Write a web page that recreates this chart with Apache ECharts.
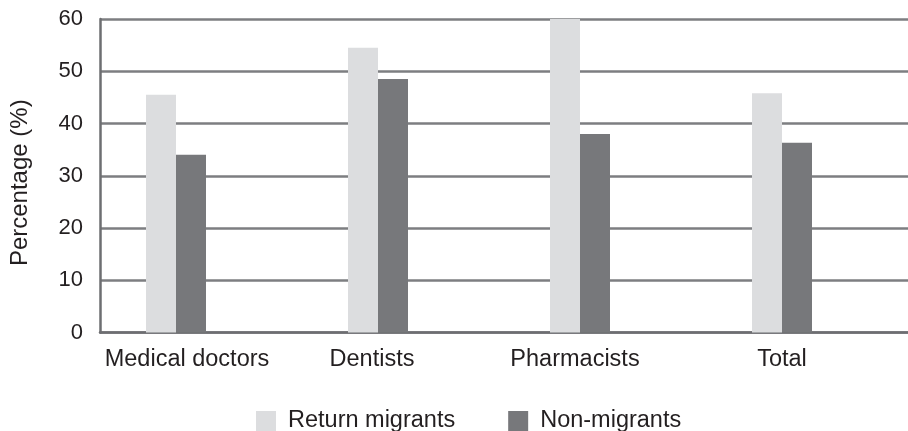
<!DOCTYPE html>
<html>
<head>
<meta charset="utf-8">
<script src="https://cdn.jsdelivr.net/npm/echarts@6/dist/echarts.min.js"></script>
<style>html,body{margin:0;padding:0;background:#fff;}#c{width:908px;height:431px;}</style>
</head>
<body>
<div id="c"></div>
<script>
const categories = ['Medical doctors', 'Dentists', 'Pharmacists', 'Total'];
const returnMigrants = [45.5, 54.5, 60.0, 45.8];
const nonMigrants = [34.0, 48.5, 38.0, 36.3];
const yTicks = [0, 10, 20, 30, 40, 50, 60];
const seriesNames = ['Return migrants', 'Non-migrants'];

const chart = echarts.init(document.getElementById('c'), null, {renderer: 'canvas'});
const font = 'Liberation Sans, Arial, sans-serif';
const labelShift = [28, 62, 60, 50];
const rich = {};
labelShift.forEach((p, i) => {
  rich['c' + i] = {fontFamily: font, fontSize: 23.5, color: '#231f20', padding: [0, p, 0, 0]};
});
chart.setOption({
  animation: false,
  backgroundColor: '#ffffff',
  grid: {left: 100, right: 0, top: 19, bottom: 98.5, containLabel: false},
  legend: {
    data: seriesNames,
    left: 251, top: 404,
    itemWidth: 20, itemHeight: 20, itemGap: 53,
    icon: 'rect',
    textStyle: {fontFamily: font, fontSize: 23.5, color: '#231f20', padding: [0, 0, 0, 7]}
  },
  xAxis: {
    type: 'category',
    data: categories,
    axisLine: {lineStyle: {color: '#6d6e71', width: 2.5}},
    axisTick: {show: false},
    axisLabel: {
      margin: 15,
      formatter: (v, i) => '{c' + i + '|' + v + '}',
      rich: rich
    }
  },
  yAxis: {
    type: 'value',
    min: yTicks[0], max: yTicks[yTicks.length - 1], interval: 10,
    name: 'Percentage (%)',
    nameLocation: 'middle',
    nameGap: 68,
    nameTextStyle: {fontFamily: font, fontSize: 24, color: '#231f20', padding: [0, 14, 0, 0]},
    axisLine: {show: true, lineStyle: {color: '#6d6e71', width: 2.5}},
    axisTick: {show: false},
    axisLabel: {fontFamily: font, fontSize: 22, color: '#231f20', margin: 17},
    splitLine: {lineStyle: {color: '#7d7e81', width: 2.5}}
  },
  series: [
    {name: seriesNames[0], type: 'bar', data: returnMigrants, barWidth: 30, barGap: '0%', itemStyle: {color: '#dcdddf'}},
    {name: seriesNames[1], type: 'bar', data: nonMigrants, barWidth: 30, barGap: '0%', itemStyle: {color: '#77787b'}},
    {name: 'pad', type: 'bar', data: categories.map(() => null), barWidth: 50, barGap: '0%', itemStyle: {color: 'rgba(0,0,0,0)'}}
  ]
});
</script>
</body>
</html>
